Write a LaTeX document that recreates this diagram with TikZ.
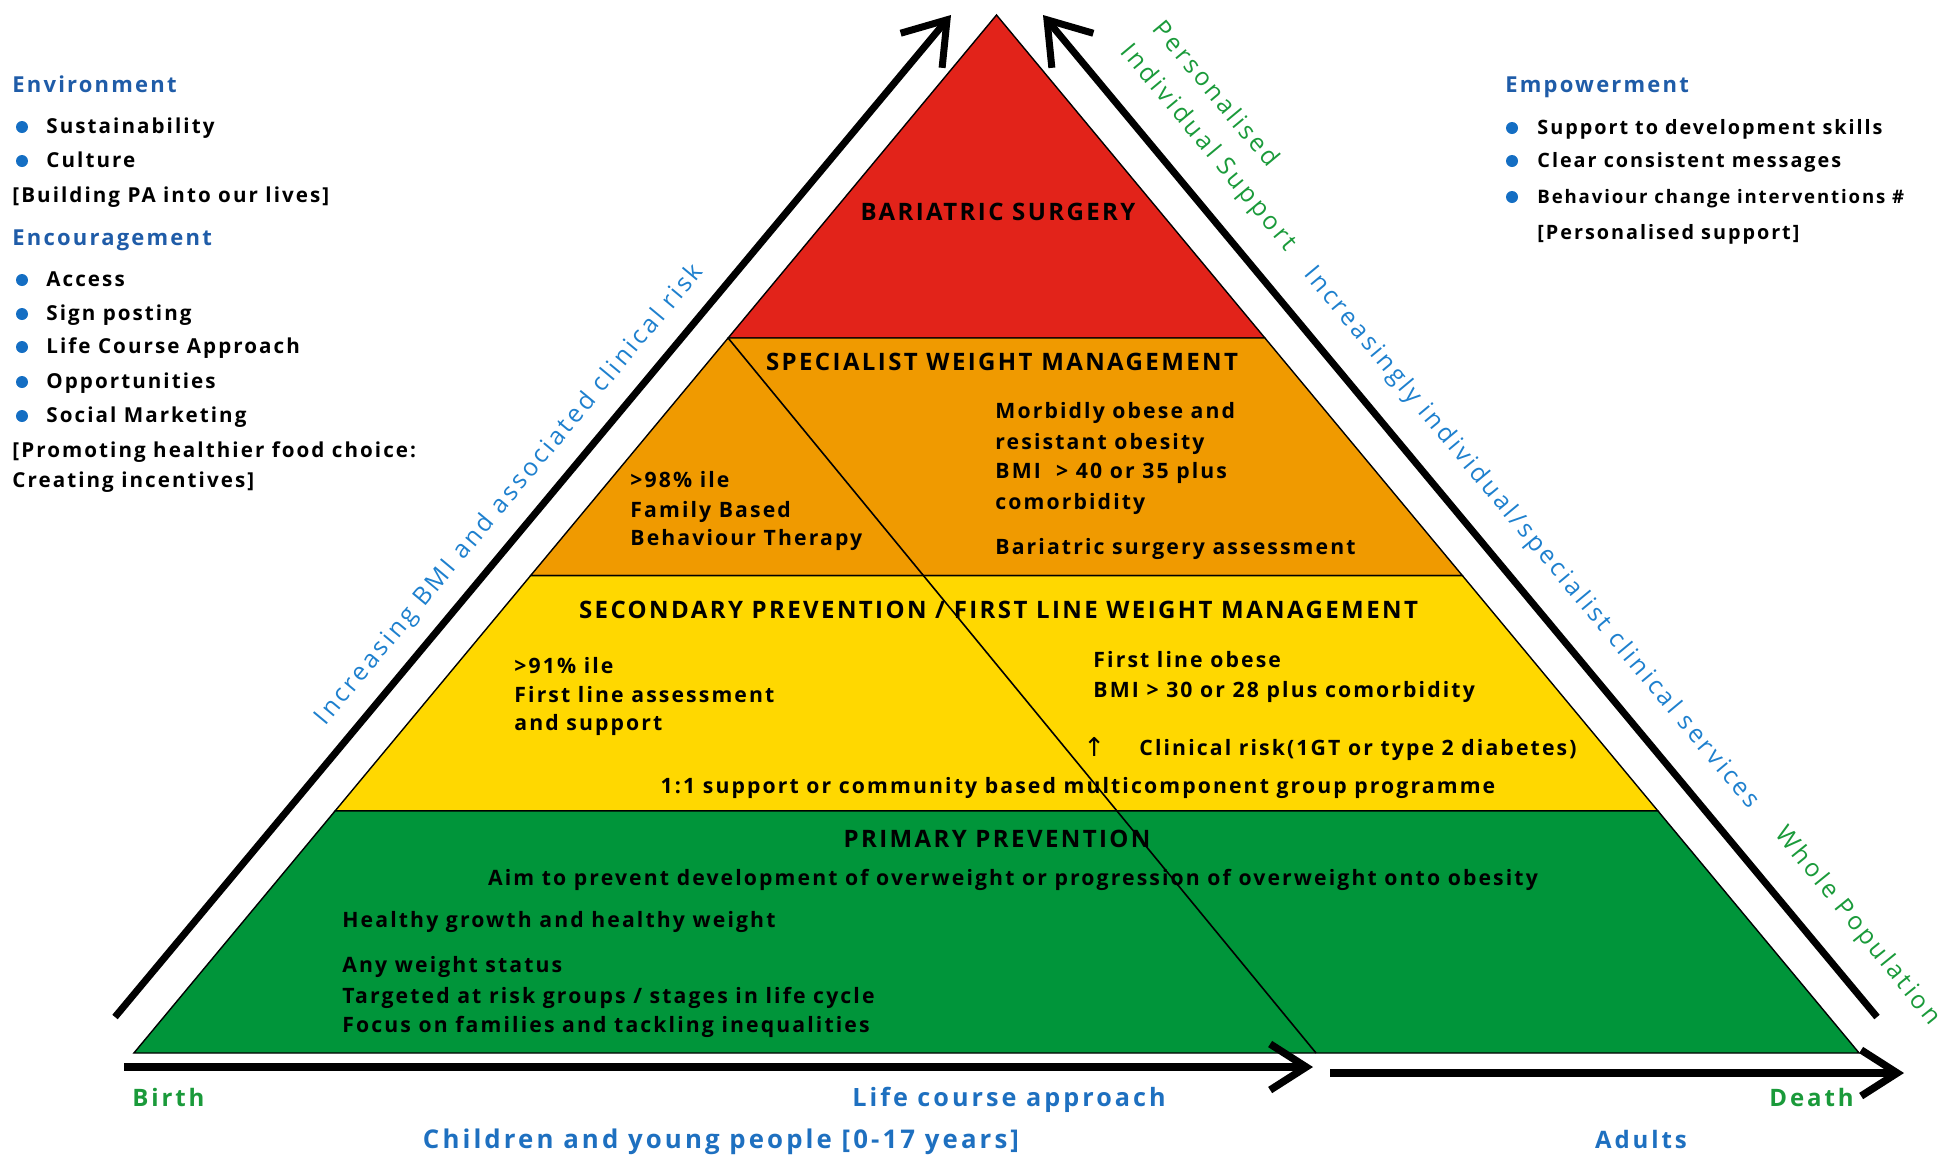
\documentclass[tikz,border=0pt]{standalone}
\usepackage{fontspec}
\setmainfont{Open Sans}
\newfontfamily\wide{Open Sans}[LetterSpace=10]
\newfontfamily\wider{Open Sans}[LetterSpace=12]
\newfontfamily\symf{DejaVu Sans}
\usetikzlibrary{arrows.meta}

\definecolor{tierred}{RGB}{226,35,26}
\definecolor{tierorange}{RGB}{240,154,0}
\definecolor{tieryellow}{RGB}{255,216,0}
\definecolor{tiergreen}{RGB}{0,149,58}
\definecolor{hblue}{RGB}{31,92,168}
\definecolor{lblue}{RGB}{30,128,206}
\definecolor{bblue}{RGB}{30,112,192}
\definecolor{dotblue}{RGB}{20,110,195}
\definecolor{lgreen}{RGB}{26,154,58}

\begin{document}
\begin{tikzpicture}[x=0.5pt,y=-0.5pt,
  band/.style={draw=black,line width=0.7pt,line join=miter},
  body/.style={font=\wide\bfseries\fontsize{10.6}{12}\selectfont,inner sep=0pt,anchor=base west},
  side/.style={font=\wide\bfseries\fontsize{10.3}{12}\selectfont,inner sep=0pt,anchor=base west},
  rside/.style={side,font=\wide\bfseries\fontsize{9.9}{12}\selectfont},
  sidehead/.style={font=\wide\bfseries\fontsize{11}{13}\selectfont,text=hblue,inner sep=0pt,anchor=base west},
  tier/.style={font=\wide\bfseries\fontsize{12}{14}\selectfont,inner sep=0pt,anchor=base},
  slant/.style={font=\wider\fontsize{12.4}{15}\selectfont,inner sep=0pt,anchor=center},
  axis/.style={font=\wider\bfseries\fontsize{12}{14}\selectfont,inner sep=0pt},
  dot/.style={circle,fill=dotblue,inner sep=0pt,minimum size=6pt},
  bigarrow/.style={line width=3.5pt,-{Straight Barb[length=20pt,width=27pt]}},
  flatarrow/.style={line width=3.7pt,-{Straight Barb[length=18pt,width=23pt]}},
]
\useasboundingbox (0,0) rectangle (1941,1158);

% pyramid corners
\coordinate (apex) at (996.5,15);
\coordinate (l1) at (728.1,338);   \coordinate (r1) at (1264.9,338);
\coordinate (l2) at (530.6,575.6); \coordinate (r2) at (1462.4,575.6);
\coordinate (l3) at (335.2,810.8); \coordinate (r3) at (1657.8,810.8);
\coordinate (l4) at (133.9,1053);  \coordinate (r4) at (1859.1,1053);
\coordinate (divend) at (1316,1053);

% tiers
\filldraw[band,fill=tierred] (apex) -- (r1) -- (l1) -- cycle;
\filldraw[band,fill=tierorange] (l1) -- (r1) -- (r2) -- (l2) -- cycle;
\filldraw[band,fill=tieryellow] (l2) -- (r2) -- (r3) -- (l3) -- cycle;
\filldraw[band,fill=tiergreen] (l3) -- (r3) -- (r4) -- (l4) -- cycle;
\draw[line width=0.8pt] (l1) -- (divend);

% side arrows
\coordinate (dl0) at (115,1017);  \coordinate (dl1) at (951,15);
\coordinate (dr0) at (1877,1017); \coordinate (dr1) at (1043,15);
\draw[bigarrow] (dl0) -- (dl1);
\draw[bigarrow] (dr0) -- (dr1);

% life course arrows
\coordinate (hl0) at (124,1067);  \coordinate (hl1) at (1313,1067);
\coordinate (hr0) at (1330,1073); \coordinate (hr1) at (1904,1073);
\draw[flatarrow] (hl0) -- (hl1);
\draw[flatarrow] (hr0) -- (hr1);

% tier texts
\node[tier] (bar) at (998,220) {BARIATRIC SURGERY};
\node[tier] (swm) at (1002,370) {SPECIALIST WEIGHT MANAGEMENT};
\node[body] (o1) at (630,487) {>98\% ile};
\node[body] (o2) at (630,517) {Family Based};
\node[body] (o3) at (630,545) {Behaviour Therapy};
\node[body] (o4) at (995,418) {Morbidly obese and};
\node[body] (o5) at (995,449) {resistant obesity};
\node[body] (o6) at (995,478) {BMI\ \ > 40 or 35 plus};
\node[body] (o7) at (995,509) {comorbidity};
\node[body] (o8) at (995,554) {Bariatric surgery assessment};

\node[tier] (sec) at (998.5,618) {SECONDARY PREVENTION / FIRST LINE WEIGHT MANAGEMENT};
\node[body] (y1) at (514,673) {>91\% ile};
\node[body] (y2) at (514,702) {First line assessment};
\node[body] (y3) at (514,730) {and support};
\node[body] (y4) at (1093,667) {First line obese};
\node[body] (y5) at (1093,697) {BMI > 30 or 28 plus comorbidity};
\node[body,font=\symf\fontsize{13}{14}\selectfont] (y6a) at (1083,756) {↑};
\node[body] (y6) at (1139,755) {Clinical risk(1GT or type 2 diabetes)};
\node[body,anchor=base] (y7) at (1078,793) {1:1 support or community based multicomponent group programme};

\node[tier] (pri) at (997,847) {PRIMARY PREVENTION};
\node[body,anchor=base] (g1) at (1013,885) {Aim to prevent development of overweight or progression of overweight onto obesity};
\node[body] (g2) at (342,927) {Healthy growth and healthy weight};
\node[body] (g3) at (342,972) {Any weight status};
\node[body] (g4) at (342,1003) {Targeted at risk groups / stages in life cycle};
\node[body] (g5) at (342,1032) {Focus on families and tackling inequalities};

% left column
\node[sidehead] (env) at (12,92) {Environment};
\node[dot] (d1) at (22,127) {};  \node[side] (e1) at (46,133) {Sustainability};
\node[dot] (d2) at (22,161) {};  \node[side] (e2) at (46,167) {Culture};
\node[side] (e3) at (12,202) {[Building PA into our lives]};
\node[sidehead] (enc) at (12,245) {Encouragement};
\node[dot] (d3) at (22,280) {};  \node[side] (c1) at (46,286) {Access};
\node[dot] (d4) at (22,314) {};  \node[side] (c2) at (46,320) {Sign posting};
\node[dot] (d5) at (22,347) {};  \node[side] (c3) at (46,353) {Life Course Approach};
\node[dot] (d6) at (22,382) {};  \node[side] (c4) at (46,388) {Opportunities};
\node[dot] (d7) at (22,416) {};  \node[side] (c5) at (46,422) {Social Marketing};
\node[side] (c6) at (12,457) {[Promoting healthier food choice:};
\node[side] (c7) at (12,487) {Creating incentives]};

% right column
\node[sidehead] (emp) at (1505,92) {Empowerment};
\node[dot] (d8) at (1512,128) {};  \node[rside] (p1) at (1537,134) {Support to development skills};
\node[dot] (d9) at (1512,161) {};  \node[rside] (p2) at (1537,167) {Clear consistent messages};
\node[dot] (d10) at (1512,197) {}; \node[rside,font=\wide\bfseries\fontsize{9.3}{12}\selectfont] (p3) at (1537,203) {Behaviour change interventions \#};
\node[rside] (p4) at (1537,239) {[Personalised support]};

% labels along the sides
\node[slant,text=lblue,rotate=50.2] (incbmi) at (510,495) {Increasing BMI and associated clinical risk};
\node[slant,text=lblue,rotate=-50.2] (incspec) at (1531,538) {Increasingly individual/specialist clinical services};
\node[slant,text=lgreen,rotate=-50.2] (pers) at (1217,93) {Personalised};
\node[slant,text=lgreen,rotate=-50.2] (indiv) at (1208,148) {Individual Support};
\node[slant,text=lgreen,rotate=-51] (whole) at (1857,926) {Whole Population};

% life course labels
\node[axis,text=lgreen,anchor=base west] (birth) at (132,1106) {Birth};
\node[axis,text=bblue,anchor=base,font=\wider\bfseries\fontsize{12.6}{14}\selectfont] (life) at (1009,1106) {Life course approach};
\node[axis,text=lgreen,anchor=base east] (death) at (1854,1106) {Death};
\node[axis,text=bblue,anchor=base,font=\wider\bfseries\fontsize{12.9}{14}\selectfont] (child) at (721,1148) {Children and young people [0-17 years]};
\node[axis,text=bblue,anchor=base] (adult) at (1641,1148) {Adults};
\end{tikzpicture}
\end{document}
